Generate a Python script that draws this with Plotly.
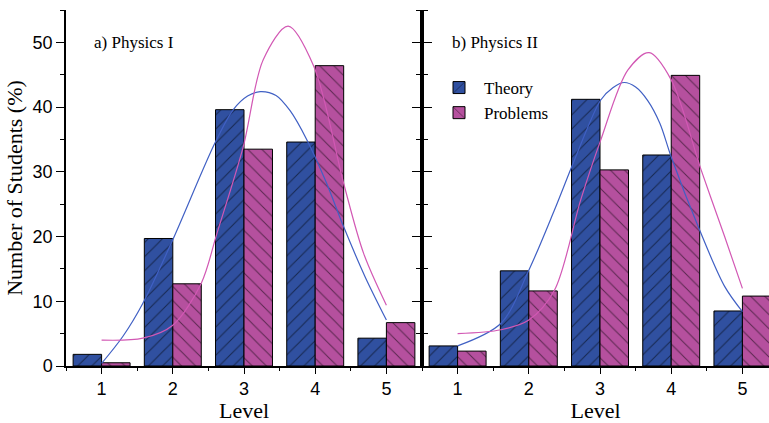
import plotly.graph_objects as go

levels = [1, 2, 3, 4, 5]

theory_I = [1.8, 19.7, 39.6, 34.6, 4.3]
problems_I = [0.5, 12.7, 33.5, 46.4, 6.7]
theory_II = [3.1, 14.7, 41.2, 32.6, 8.5]
problems_II = [2.3, 11.6, 30.3, 44.9, 10.8]

# fitted curves
fit_theory_I_x = [1.0, 1.3, 1.58, 2.0, 2.59, 2.85, 3.05, 3.23, 3.45, 3.65, 3.88, 4.15, 4.40, 4.7, 5.0]
fit_theory_I_y = [0.4, 4.6, 9.7, 19.5, 34.4, 39.6, 41.7, 42.4, 41.8, 39.4, 35.0, 28.5, 21.5, 13.8, 7.1]
fit_problems_I_x = [1.0, 1.58, 2.0, 2.40, 2.62, 2.99, 3.27, 3.62, 3.98, 4.40, 4.68, 5.0]
fit_problems_I_y = [4.0, 4.3, 6.3, 12.8, 20.5, 33.9, 47.3, 52.5, 46.3, 28.2, 17.4, 9.4]
fit_theory_II_x = [1.0, 1.61, 2.0, 2.36, 2.64, 3.01, 3.18, 3.34, 3.5, 3.67, 3.84, 4.0, 4.38, 4.75, 5.0]
fit_theory_II_y = [3.1, 6.6, 14.8, 24.1, 31.8, 41.1, 43.0, 43.8, 43.1, 41.0, 37.5, 32.3, 21.5, 12.3, 8.4]
fit_problems_II_x = [1.0, 1.61, 2.0, 2.36, 2.73, 3.01, 3.39, 3.69, 4.0, 4.42, 4.75, 5.0]
fit_problems_II_y = [5.0, 5.6, 7.1, 11.7, 25.7, 34.9, 45.7, 48.4, 44.2, 30.3, 20.0, 12.0]

BLUE = "#3050A0"
PINK = "#B5509E"
BLUE_LINE = "#4060C4"
PINK_LINE = "#D258B4"

fig = go.Figure()

def bars(x, y, name, color, shape, xa, ya, show):
    return go.Bar(x=x, y=y, name=name, xaxis=xa, yaxis=ya, showlegend=show,
                  legendgroup=name, width=0.4,
                  marker=dict(color=color, line=dict(color="black", width=1),
                              pattern=dict(shape=shape, fgcolor="black", bgcolor=color,
                                           size=10, solidity=0.1, fillmode="overlay")))

fig.add_trace(bars(levels, theory_I, "Theory", BLUE, "/", "x", "y", False))
fig.add_trace(bars(levels, problems_I, "Problems", PINK, "\\", "x", "y", False))
fig.add_trace(bars(levels, theory_II, "Theory", BLUE, "/", "x2", "y2", True))
fig.add_trace(bars(levels, problems_II, "Problems", PINK, "\\", "x2", "y2", True))

def curve(x, y, color, xa, ya):
    return go.Scatter(x=x, y=y, mode="lines", line=dict(color=color, width=1.2, shape="spline", smoothing=0.9),
                      xaxis=xa, yaxis=ya, showlegend=False, hoverinfo="skip")

fig.add_trace(curve(fit_theory_I_x, fit_theory_I_y, BLUE_LINE, "x", "y"))
fig.add_trace(curve(fit_problems_I_x, fit_problems_I_y, PINK_LINE, "x", "y"))
fig.add_trace(curve(fit_theory_II_x, fit_theory_II_y, BLUE_LINE, "x2", "y2"))
fig.add_trace(curve(fit_problems_II_x, fit_problems_II_y, PINK_LINE, "x2", "y2"))

split = 356 / 703
tickfont = dict(family="Liberation Sans, Arial", size=18, color="black")
titlefont = dict(family="Liberation Serif, Times New Roman", size=22, color="black")
serif17 = dict(family="Liberation Serif, Times New Roman", size=17, color="black")

xcommon = dict(tickmode="linear", tick0=1, dtick=1, ticks="outside", ticklen=6, tickwidth=1,
               tickcolor="black", showline=True, linecolor="black", linewidth=1.5,
               showgrid=False, zeroline=False, tickfont=tickfont,
               minor=dict(ticks="outside", ticklen=3, dtick=0.5, tick0=0.5, tickcolor="black"),
               title=dict(text="Level", font=titlefont, standoff=8))
topcommon = dict(tickmode="linear", tick0=1, dtick=1, ticks="inside", ticklen=5, tickwidth=1,
                 tickcolor="black", showline=True, linecolor="black", linewidth=1.5,
                 showgrid=False, zeroline=False, showticklabels=False, side="top",
                 minor=dict(ticks="inside", ticklen=4, dtick=0.5, tick0=0.5, tickcolor="black"))
ycommon = dict(range=[0, 55], tickmode="linear", tick0=0, dtick=10, ticks="outside", ticklen=8,
               tickwidth=1, tickcolor="black", showline=True, linecolor="black", linewidth=1.5,
               showgrid=False, zeroline=False, tickfont=tickfont,
               minor=dict(ticks="outside", ticklen=4, dtick=5, tickcolor="black"))

fig.update_layout(
    width=769, height=423,
    margin=dict(l=66, r=0, t=10, b=57),
    paper_bgcolor="white", plot_bgcolor="white",
    barmode="group", bargap=0.2, bargroupgap=0,
    xaxis=dict(domain=[0, split], range=[0.5, 5.5], anchor="y", **xcommon),
    xaxis2=dict(domain=[split, 1], range=[0.5, 5.5 - 9 / 71], anchor="y2", **xcommon),
    xaxis3=dict(overlaying="x", anchor="y", range=[0.5, 5.5], **topcommon),
    xaxis4=dict(overlaying="x2", anchor="y2", range=[0.5, 5.5 - 9 / 71], **topcommon),
    yaxis=dict(domain=[0, 1], anchor="x", mirror="ticks",
               title=dict(text="Number of Students (%)", font=titlefont, standoff=4), **ycommon),
    yaxis2=dict(domain=[0, 1], anchor="x2", showticklabels=False, **ycommon),
    legend=dict(x=(434 - 66) / 703, y=1 - (70 - 10) / 356, xanchor="left", yanchor="top",
                font=serif17, bgcolor="rgba(0,0,0,0)", itemwidth=40, tracegroupgap=0),
    annotations=[
        dict(text="a) Physics I", x=0.5, y=50, xref="x", yref="y", xanchor="left", yanchor="middle",
             showarrow=False, xshift=26, font=serif17),
        dict(text="b) Physics II", x=0.5, y=50, xref="x2", yref="y2", xanchor="left", yanchor="middle",
             showarrow=False, xshift=28, font=serif17),
    ],
)

fig.write_html("out.html")
